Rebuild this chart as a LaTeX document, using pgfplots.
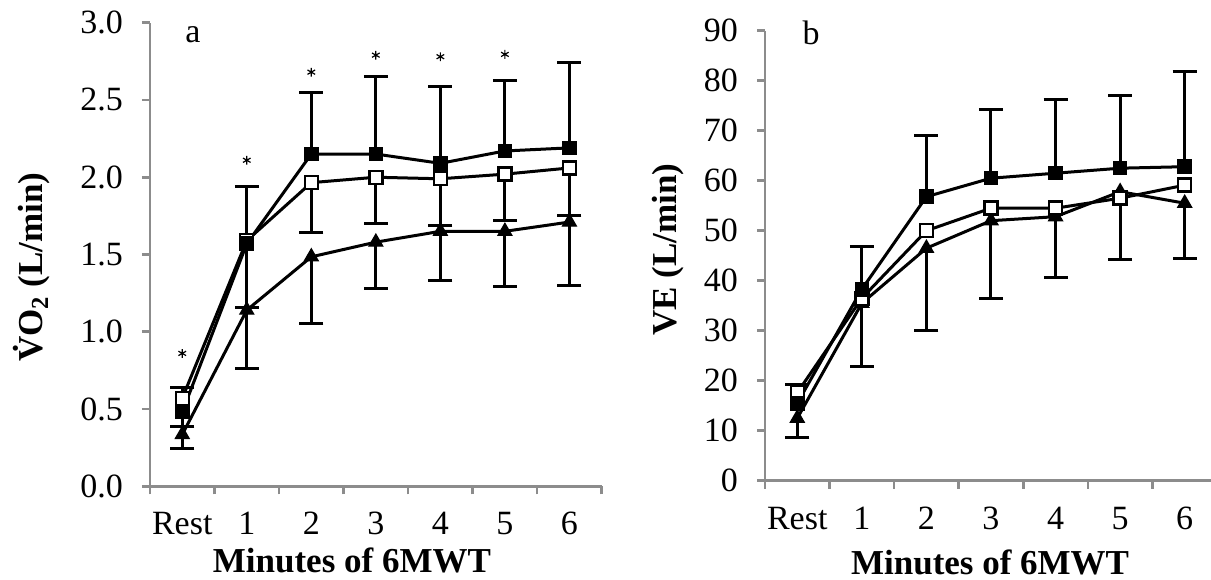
\documentclass[border=0pt]{standalone}
\usepackage{fontspec}
\setmainfont{Liberation Serif}
\usepackage{pgfplots}
\usepackage{pgfplotstable}
\pgfplotsset{compat=1.18}
\definecolor{axgray}{RGB}{140,140,140}

% panel a: VO2 (L/min)
\pgfplotstableread{
x y e
0 0.48 0.16
1 1.57 0.37
2 2.15 0.40
3 2.15 0.50
4 2.09 0.50
5 2.17 0.455
6 2.19 0.555
}\FA
\pgfplotstableread{
x y e
0 0.57 0.185
1 1.59 0.435
2 1.965 0.325
3 2.00 0.30
4 1.99 0.30
5 2.02 0.30
6 2.06 0.305
}\OA
\pgfplotstableread{
x y e
0 0.335 0.09
1 1.14 0.375
2 1.485 0.43
3 1.58 0.30
4 1.65 0.32
5 1.65 0.36
6 1.71 0.41
}\TA
\pgfplotstableread{
x y
0 0.86
1 2.11
2 2.68
3 2.79
4 2.78
5 2.795
}\SA
% panel b: VE (L/min)
\pgfplotstableread{
x y e
0 15.5 3.8
1 38.3 8.6
2 56.8 12.3
3 60.5 13.8
4 61.5 14.8
5 62.5 14.6
6 62.8 19.0
}\FB
\pgfplotstableread{
x y
0 17.6
1 36.5
2 50.0
3 54.5
4 54.5
5 56.5
6 59.1
}\OB
\pgfplotstableread{
x y e
0 12.5 3.8
1 35.5 12.6
2 46.5 16.5
3 52.0 15.5
4 52.8 12.2
5 57.8 13.5
6 55.5 11.0
}\TB

\pgfplotsset{
  myaxis/.style={
    scale only axis,
    axis lines*=left,
    axis line style={axgray, line width=1.3pt},
    xmin=-0.5, xmax=6.5,
    xtick={0,...,6},
    xticklabels={Rest,1,2,3,4,5,6},
    minor xtick={-0.5,0.5,...,6.5},
    major x tick style={draw=none},
    minor x tick style={axgray, line width=1.3pt},
    tick align=outside,
    minor tick length=4pt,
    major tick length=4pt,
    y tick style={axgray,line width=1.3pt},
    tick label style={font=\fontsize{17}{20}\selectfont},
    xticklabel style={yshift=-5.5pt},
    yticklabel style={xshift=-6pt},
    label style={font=\bfseries\fontsize{17.5}{20}\selectfont},
    clip=false,
  },
  ser/.style={black, line width=1.5pt,
    error bars/y explicit,
    error bars/error bar style={line width=1.5pt, black},
    error bars/error mark options={rotate=90, mark size=6pt, line width=1.5pt, black}},
  fsq/.style={ser, mark=square*, mark size=3.25pt, mark options={fill=black, line width=0.8pt}},
  osq/.style={ser, mark=square*, mark size=3.25pt, mark options={fill=white, line width=1.2pt}},
  tri/.style={ser, mark=triangle*, mark size=4pt, mark options={fill=black, line width=0.6pt}},
}

\begin{document}
\begin{tikzpicture}
\useasboundingbox (0,0) rectangle (605.5pt,289.5pt);
% panel a
\begin{axis}[myaxis,
  at={(75pt,46.35pt)}, anchor=south west,
  width=225.85pt, height=231.8pt,
  ymin=0, ymax=3,
  ytick={0,0.5,...,3},
  yticklabels={0.0,0.5,1.0,1.5,2.0,2.5,3.0},
  xlabel={Minutes of 6MWT},
  ylabel={\.{V}O\textsubscript{2} (L/min)},
  xlabel style={at={(axis description cs:0.447,-0.159)}, anchor=center},
  ylabel style={at={(axis description cs:-0.262,0.473)}, anchor=center},
]
\addplot[tri, error bars/y dir=minus] table[x=x, y=y, y error=e] {\TA};
\addplot[osq, error bars/y dir=minus] table[x=x, y=y, y error=e] {\OA};
\addplot[fsq, error bars/y dir=plus] table[x=x, y=y, y error=e] {\FA};
\addplot[only marks, mark=asterisk, mark size=2.2pt, mark options={line width=0.6pt, black}] table[x=x, y=y] {\SA};
\node[font=\fontsize{17}{20}\selectfont] at (axis description cs:0.095,0.975) {a};
\end{axis}
% panel b
\begin{axis}[myaxis,
  at={(382.5pt,49.15pt)}, anchor=south west,
  width=226pt, height=225pt,
  ymin=0, ymax=90,
  ytick={0,10,...,90},
  yticklabels={0,10,20,30,40,50,60,70,80,90},
  xlabel={Minutes of 6MWT},
  ylabel={VE (L/min)},
  xlabel style={at={(axis description cs:0.498,-0.181)}, anchor=center},
  ylabel style={at={(axis description cs:-0.215,0.513)}, anchor=center},
]
\addplot[tri, error bars/y dir=minus] table[x=x, y=y, y error=e] {\TB};
\addplot[osq] table[x=x, y=y] {\OB};
\addplot[fsq, error bars/y dir=plus] table[x=x, y=y, y error=e] {\FB};
\node[font=\fontsize{17}{20}\selectfont] at (axis description cs:0.102,0.995) {b};
\end{axis}
\end{tikzpicture}
\end{document}
